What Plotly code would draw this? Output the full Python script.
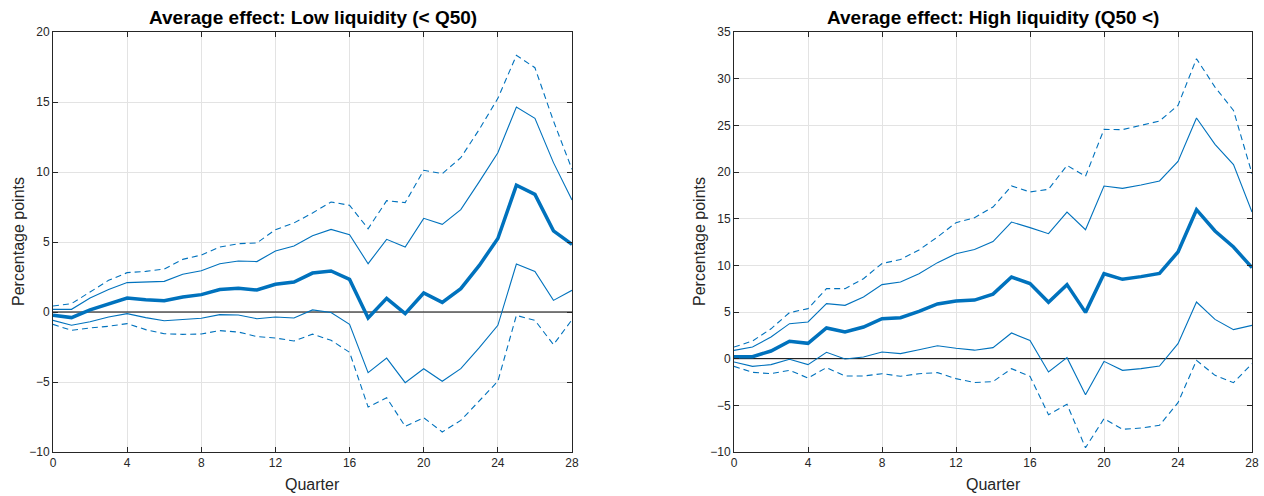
import plotly.graph_objects as go

quarters = list(range(29))

# Low liquidity (< Q50)
low_mean = [-0.24, -0.4, 0.15, 0.6, 1.0, 0.88, 0.8, 1.07, 1.24, 1.6, 1.7, 1.57, 1.98, 2.14, 2.78,
            2.93, 2.33, -0.43, 0.98, -0.12, 1.36, 0.69, 1.67, 3.33, 5.25, 9.05, 8.4, 5.8, 4.83]
low_up68 = [0.19, 0.19, 1.0, 1.6, 2.1, 2.12, 2.19, 2.7, 2.95, 3.45, 3.64, 3.6, 4.36, 4.71, 5.45,
            5.9, 5.52, 3.45, 5.19, 4.64, 6.69, 6.26, 7.31, 9.31, 11.38, 14.64, 13.83, 10.67, 8.0]
low_lo68 = [-0.6, -0.95, -0.7, -0.36, -0.12, -0.4, -0.62, -0.55, -0.45, -0.19, -0.21, -0.48, -0.36, -0.43, 0.15,
            -0.03, -0.88, -4.33, -3.29, -5.05, -4.05, -4.95, -4.05, -2.55, -0.95, 3.43, 2.9, 0.83, 1.55]
low_up90 = [0.43, 0.6, 1.43, 2.26, 2.81, 2.9, 3.07, 3.76, 4.07, 4.64, 4.88, 4.93, 5.88, 6.36, 7.07,
            7.86, 7.62, 5.95, 7.95, 7.81, 10.12, 9.88, 11.02, 13.05, 15.26, 18.33, 17.45, 13.64, 10.19]
low_lo90 = [-0.88, -1.31, -1.14, -1.02, -0.83, -1.26, -1.55, -1.6, -1.57, -1.33, -1.43, -1.76, -1.86, -2.07, -1.58,
            -2.02, -2.88, -6.79, -6.12, -8.17, -7.55, -8.57, -7.74, -6.31, -4.95, -0.24, -0.6, -2.33, -0.55]

# High liquidity (Q50 <)
high_mean = [0.21, 0.21, 0.82, 1.86, 1.64, 3.29, 2.86, 3.39, 4.29, 4.39, 5.07, 5.86, 6.18, 6.28, 6.92,
             8.75, 8.04, 6.04, 7.93, 4.96, 9.1, 8.5, 8.79, 9.14, 11.43, 15.96, 13.68, 11.96, 9.75]
high_up68 = [0.89, 1.25, 2.32, 3.75, 3.93, 5.89, 5.71, 6.61, 7.93, 8.21, 9.11, 10.29, 11.25, 11.69, 12.55,
             14.64, 14.04, 13.39, 15.71, 13.82, 18.5, 18.25, 18.6, 19.04, 21.14, 25.79, 22.96, 20.79, 15.71]
high_lo68 = [-0.36, -0.82, -0.64, -0.07, -0.64, 0.68, -0.04, 0.18, 0.71, 0.54, 0.96, 1.39, 1.11, 0.91, 1.18,
             2.75, 1.96, -1.43, 0.11, -3.86, -0.29, -1.25, -1.07, -0.79, 1.61, 6.07, 4.21, 3.11, 3.57]
high_up90 = [1.25, 1.89, 3.2, 4.93, 5.36, 7.5, 7.5, 8.57, 10.2, 10.62, 11.65, 13.04, 14.57, 15.1, 16.25,
             18.5, 17.86, 18.14, 20.71, 19.54, 24.57, 24.54, 25.0, 25.46, 27.14, 32.14, 29.1, 26.6, 19.82]
high_lo90 = [-0.82, -1.46, -1.61, -1.25, -2.07, -0.96, -1.86, -1.86, -1.61, -1.89, -1.61, -1.5, -2.14, -2.55, -2.46,
             -1.07, -1.89, -6.0, -4.89, -9.54, -6.43, -7.57, -7.43, -7.14, -4.71, -0.18, -1.79, -2.57, -0.54]

zero_line = [0] * 29

x_ticks = [0, 4, 8, 12, 16, 20, 24, 28]
low_yticks = [-10, -5, 0, 5, 10, 15, 20]
high_yticks = [-10, -5, 0, 5, 10, 15, 20, 25, 30, 35]

titles = ["Average effect: Low liquidity (< Q50)", "Average effect: High liquidity (Q50 <)"]
xlabel = "Quarter"
ylabel = "Percentage points"

BLUE = "#0072BD"
W, H = 1264, 496
ML, MR, MT, MB = 53, 12, 32, 44
PW, PH = W - ML - MR, H - MT - MB

fig = go.Figure()

panels = [
    ("x", "y", low_mean, low_up68, low_lo68, low_up90, low_lo90),
    ("x2", "y2", high_mean, high_up68, high_lo68, high_up90, high_lo90),
]
for xa, ya, m, u68, l68, u90, l90 in panels:
    fig.add_trace(go.Scatter(x=quarters, y=zero_line, mode="lines", xaxis=xa, yaxis=ya,
                             line=dict(color="black", width=1), showlegend=False, hoverinfo="skip"))
    for s in (u90, l90):
        fig.add_trace(go.Scatter(x=quarters, y=s, mode="lines", xaxis=xa, yaxis=ya,
                                 line=dict(color=BLUE, width=1.1, dash="6px,4px"), showlegend=False))
    for s in (u68, l68):
        fig.add_trace(go.Scatter(x=quarters, y=s, mode="lines", xaxis=xa, yaxis=ya,
                                 line=dict(color=BLUE, width=1.1), showlegend=False))
    fig.add_trace(go.Scatter(x=quarters, y=m, mode="lines", xaxis=xa, yaxis=ya,
                             line=dict(color=BLUE, width=3.5), showlegend=False))

def px_x(p):
    return (p - ML) / PW

def px_y(p):
    return (H - MB - p) / PH

xdom1 = [0, px_x(572)]
xdom2 = [px_x(734), 1]

FONT = "Liberation Sans, Arial, Helvetica, sans-serif"
axis_common = dict(
    showgrid=True, gridcolor="#e3e3e3", gridwidth=1,
    showline=True, linecolor="#262626", linewidth=1, mirror="ticks",
    ticks="inside", ticklen=5, tickcolor="#262626",
    tickfont=dict(family=FONT, size=12, color="#262626"),
    zeroline=False, automargin=False,
)

fig.update_layout(
    width=W, height=H, autosize=False,
    margin=dict(l=ML, r=MR, t=MT, b=MB, pad=0),
    paper_bgcolor="white", plot_bgcolor="white",
    showlegend=False,
    xaxis=dict(domain=xdom1, range=[0, 28], tickvals=x_ticks, anchor="y", **axis_common),
    yaxis=dict(domain=[0, 1], range=[-10, 20], tickvals=low_yticks, anchor="x", **axis_common),
    xaxis2=dict(domain=xdom2, range=[0, 28], tickvals=x_ticks, anchor="y2", **axis_common),
    yaxis2=dict(domain=[0, 1], range=[-10, 35], tickvals=high_yticks, anchor="x2", **axis_common),
)

label_font = dict(family=FONT, size=16, color="#262626")
ylab_px = [18, 699]
for i, t in enumerate(titles):
    dom = xdom1 if i == 0 else xdom2
    cx = (dom[0] + dom[1]) / 2
    fig.add_annotation(text="<b>" + t + "</b>", xref="paper", yref="paper",
                       x=cx, y=px_y(18), xanchor="center", yanchor="middle",
                       showarrow=False, font=dict(family=FONT, size=19, color="black"))
    fig.add_annotation(text=xlabel, xref="paper", yref="paper",
                       x=cx, y=px_y(484), xanchor="center", yanchor="middle",
                       showarrow=False, font=label_font)
    fig.add_annotation(text=ylabel, xref="paper", yref="paper", textangle=-90,
                       x=px_x(ylab_px[i]), y=px_y(242), xanchor="center", yanchor="middle",
                       showarrow=False, font=label_font)

fig.write_html("out.html")
